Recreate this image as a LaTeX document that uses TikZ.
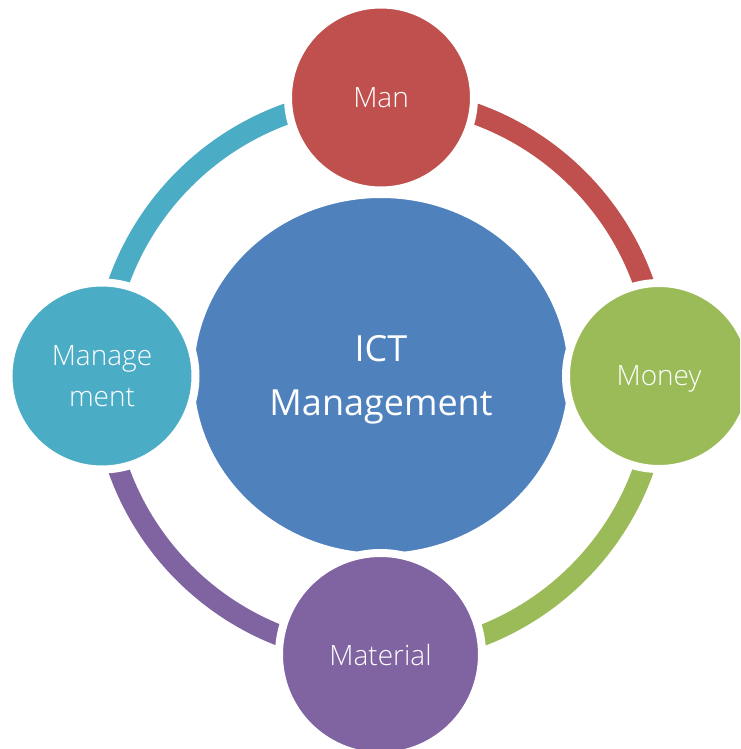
\documentclass[tikz,border=0pt]{standalone}
\usepackage{fontspec}
\setmainfont{Open Sans}[UprightFont=* Light]
\newfontfamily\corefont{Open Sans}
\usetikzlibrary{shapes.geometric}
\definecolor{cred}{HTML}{C0504D}
\definecolor{cgreen}{HTML}{9BBB59}
\definecolor{cpurple}{HTML}{8064A2}
\definecolor{cteal}{HTML}{4BACC6}
\definecolor{cblue}{HTML}{4F81BD}
\tikzset{
  ring/.style={line width=21pt},
  ball/.style={circle, inner sep=0pt, draw=white, line width=8pt, text=white,
    font=\fontsize{28}{41}\selectfont, text depth=0pt},
  core/.style={ellipse, inner sep=0pt, fill=cblue, draw=white, line width=6pt, text=white,
    font=\corefont\fontsize{36}{54}\selectfont, align=center}
}
\begin{document}
\begin{tikzpicture}[x=1pt,y=1pt]
\path[use as bounding box, clip] (0,-749) rectangle (740,0);
\fill[white] (0,-749) rectangle (740,0);
\coordinate (hub) at (381,-376);
\node[core, minimum width=380pt, minimum height=361pt] (ict) at (381,-375.5)
  {ICT\\\raisebox{0pt}[\height][0pt]{Management}};
% ring segments
\draw[ring, cteal]   (hub) ++(180:278.5) arc[start angle=180, end angle=90, radius=278.5];
\draw[ring, cred]    (hub) ++(90:278.5) arc[start angle=90, end angle=0, radius=278.5];
\draw[ring, cgreen]  (hub) ++(0:278.5) arc[start angle=0, end angle=-90, radius=278.5];
\draw[ring, cpurple] (hub) ++(270:278.5) arc[start angle=270, end angle=180, radius=278.5];
% satellites
\node[ball, fill=cred, minimum size=186pt] (man) at (381,-97.5) {Man};
\node[ball, fill=cgreen, minimum size=186pt] (money) at (659,-376) {Money};
\node[ball, fill=cpurple, minimum size=203pt] (material) at (380.5,-654.5) {Material};
\node[ball, fill=cteal, minimum size=187pt, align=center, text depth=] (mgmt) at (102,-376) {Manage\\ment};
\end{tikzpicture}
\end{document}
